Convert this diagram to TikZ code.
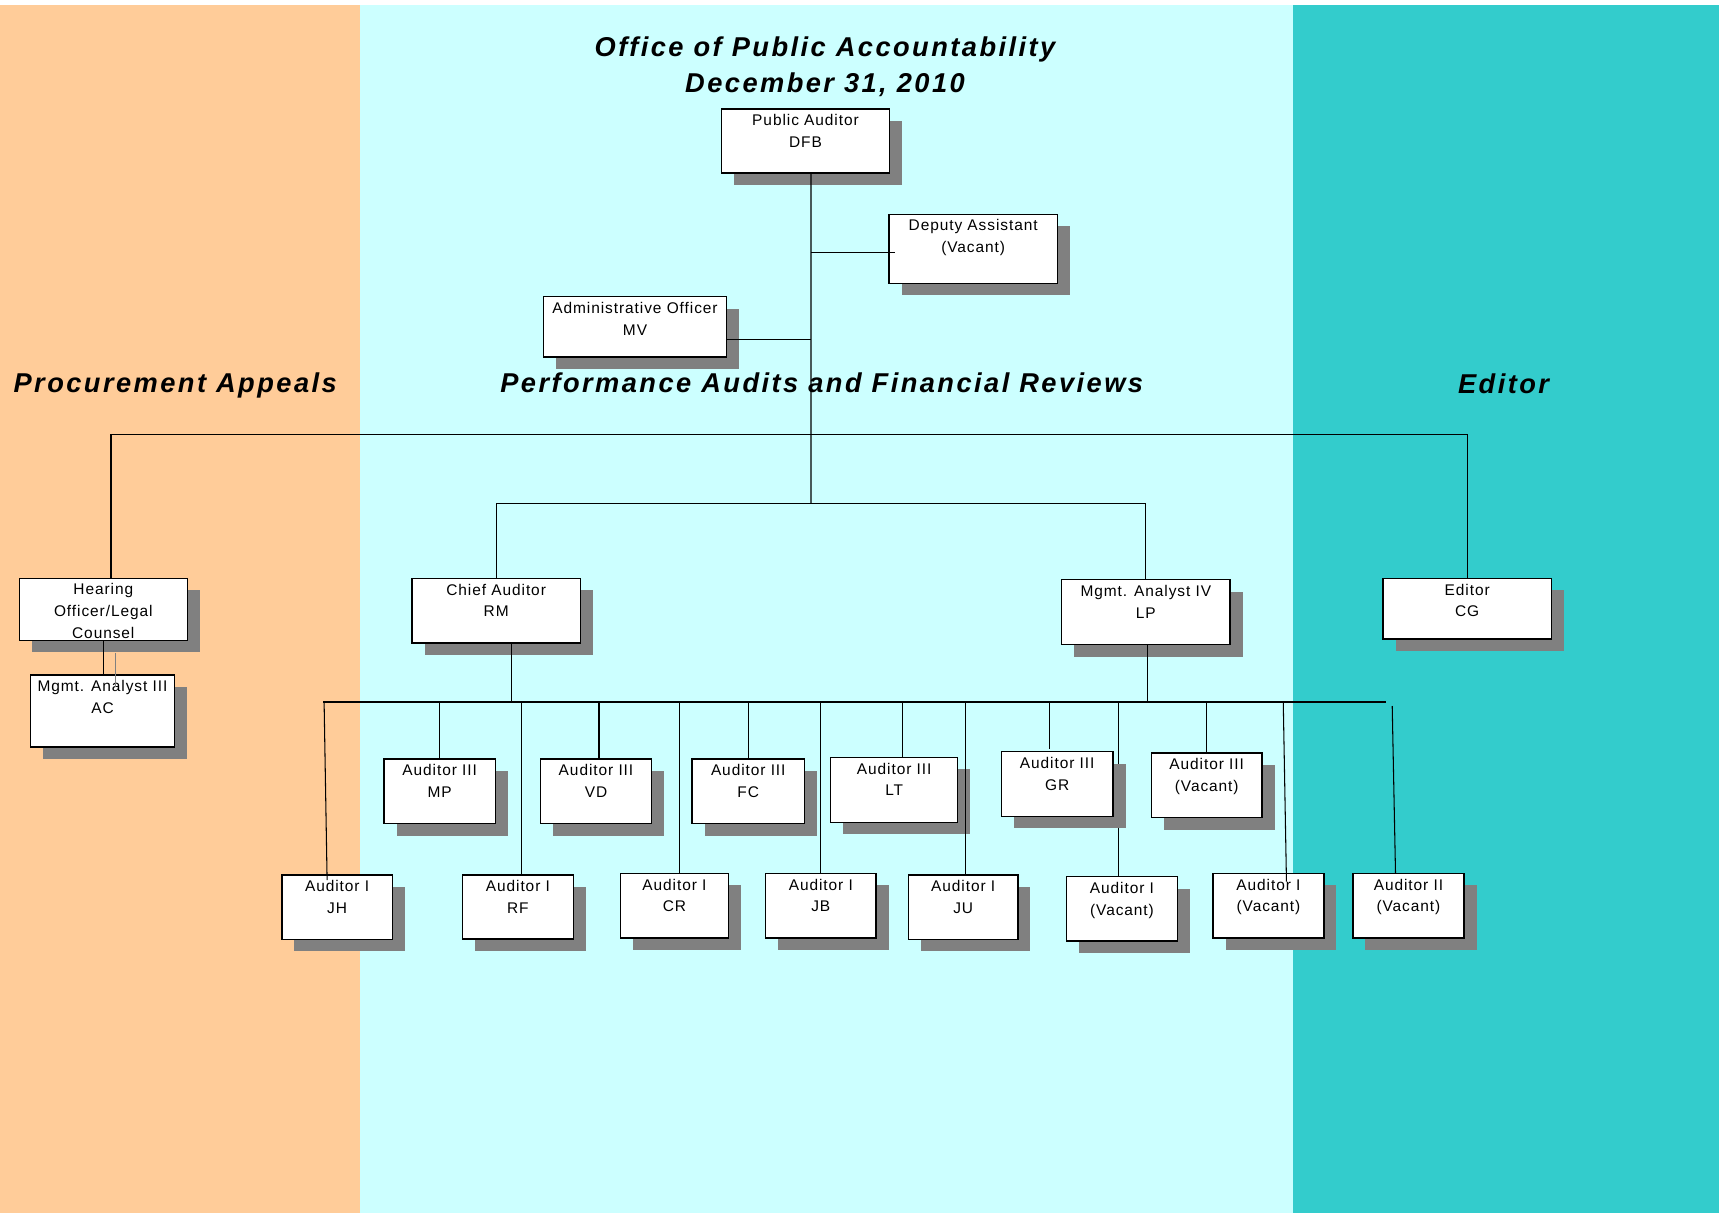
\documentclass[tikz,border=0pt]{standalone}
\usepackage{fontspec}
\setmainfont{Liberation Sans}
\newfontfamily\boxfont[LetterSpace=6]{Liberation Sans}
\newfontfamily\headfont[LetterSpace=9]{Liberation Sans}
\usetikzlibrary{shadows,calc}
\pgfdeclarelayer{background}
\pgfdeclarelayer{foreground}
\pgfsetlayers{background,main,foreground}
\definecolor{appealsorange}{HTML}{FFCC99}
\definecolor{auditcyan}{HTML}{CCFFFF}
\definecolor{editorteal}{HTML}{33CCCC}
\definecolor{shadowgray}{HTML}{808080}

\begin{document}
\begin{tikzpicture}[x=0.02cm,y=-0.02cm,
  box/.style 2 args={draw, fill=white, line width=0.85pt, inner sep=0pt, outer sep=0pt,
    anchor=north west, align=center, font=\boxfont\fontsize{8.8}{12.35}\selectfont,
    text height=0.768cm, minimum width=#1*0.02cm, text depth=#2*0.02cm-0.768cm,
    drop shadow={shadow xshift=0.25cm, shadow yshift=-0.24cm, fill=shadowgray, opacity=1}},
  head/.style={font=\headfont\bfseries\itshape\fontsize{15.5}{20.8}\selectfont, inner sep=0pt},
  link/.style={line width=0.6pt}]

\useasboundingbox (0,0) rectangle (1719,1213);

%coloured bands
\begin{pgfonlayer}{background}
\fill[white] (0,0) rectangle (1719,1213);
\fill[appealsorange] (0,5) rectangle (360,1213);
\fill[auditcyan] (360,5) rectangle (1293,1213);
\fill[editorteal] (1293,5) rectangle (1719,1213);
\end{pgfonlayer}

%title and section headings
\node[head, align=center, anchor=base] (title) at (825,92.7) {Office of Public Accountability\\December 31, 2010};
\node[head, anchor=base west] (appeals) at (13.3,392.3) {Procurement Appeals};
\node[head, anchor=base west] (audits) at (500,392) {Performance Audits and Financial Reviews};
\node[head, anchor=base west] (editing) at (1457.7,393) {Editor};

\begin{pgfonlayer}{foreground}
%top boxes
\node[box={167.6}{64}] (pa) at (721.7,109) {Public Auditor\\DFB};
\node[box={168.3}{69}] (da) at (889,214.3) {Deputy Assistant\\(Vacant)};
\node[box={182.6}{60.3}] (ao) at (543.7,296.7) {Administrative Officer\\MV};

%section heads
\node[box={168}{62}, text height=1.202cm, text depth=0.038cm] (ho) at (19.3,578.3) {Hearing\\Officer/Legal\\Counsel};
\node[box={143.6}{72}] (ac) at (30.7,675) {Mgmt. Analyst III\\AC};
\node[box={168.3}{64.7}] (ca) at (412,578.3) {Chief Auditor\\RM};
\node[box={168.3}{65}] (lp) at (1061.7,579.7) {Mgmt. Analyst IV\\LP};
\node[box={168.3}{60.7}] (ed) at (1383,578.3) {Editor\\CG};

%auditor III row
\node[box={111.3}{64.7}] (mp) at (384,759) {Auditor III\\MP};
\node[box={111}{64.7}] (vd) at (540.5,759) {Auditor III\\VD};
\node[box={112.5}{64.7}] (fc) at (692,759) {Auditor III\\FC};
\node[box={127}{65}] (lt) at (830.7,757.3) {Auditor III\\LT};
\node[box={111.7}{64.6}] (gr) at (1001.3,751.7) {Auditor III\\GR};
\node[box={110.6}{64.7}] (avac) at (1151.4,753) {Auditor III\\(Vacant)};

%auditor I row
\node[box={110.6}{64.3}] (jh) at (281.8,875) {Auditor I\\JH};
\node[box={111}{64}] (rf) at (462.4,875) {Auditor I\\RF};
\node[box={107.9}{64.7}] (cr) at (620.5,873.3) {Auditor I\\CR};
\node[box={110.6}{64.7}] (jb) at (765.5,873.3) {Auditor I\\JB};
\node[box={109.4}{64.3}] (ju) at (908.5,875) {Auditor I\\JU};
\node[box={111.1}{64.3}] (ivaca) at (1066.4,876.7) {Auditor I\\(Vacant)};
\node[box={110.7}{64.7}] (ivacb) at (1213.1,873.3) {Auditor I\\(Vacant)};
\node[box={111.2}{64.7}] (iivac) at (1352.8,873.3) {Auditor II\\(Vacant)};

\coordinate (bus1) at (811,434.3);
\coordinate (bus2) at (811,503.3);
\coordinate (bus3) at (323,702);
\coordinate (bus3end) at (1386.4,702);

%top connectors
\draw[link] ($(pa.south)+(5.5,0)$) -- (bus2);
\draw[link] ($(bus2 |- da.west)+(0,4)$) -- ($(da.west)+(6,4)$);
\draw[link] ($(ao.east)+(0,13)$) -- ($(bus2 |- ao.east)+(0,13)$);
\draw[link] ($(ho.north)+(7.7,0)$) -- ($(ho.north |- bus1)+(7.7,0)$) -- (ed.north |- bus1) -- (ed.north);
\draw[link] (ca.north) -- (ca.north |- bus2) -- (lp.north |- bus2) -- (lp.north);
\draw[link] ($(ca.south)+(15.3,0)$) -- ($(ca.south |- bus3)+(15.3,0)$);
\draw[link] ($(lp.south)+(2,0)$) -- ($(lp.south |- bus3)+(2,0)$);
\draw[link] (ho.south) -- (ho.south |- ac.north);
\draw[link, shadowgray] ($(ho.south)+(12.5,12.7)$) -- ($(ho.south |- ac.north)+(12.5,11.7)$);

%auditor bus and drops
\draw[link] (bus3) -- (bus3end);
\draw[link] ($(jh.north |- bus3)+(-13,0)$) -- ($(jh.north)+(-10,5)$);
\draw[link] (mp.north |- bus3) -- (mp.north);
\draw[link] ($(rf.north |- bus3)+(3.5,0)$) -- ($(rf.north)+(3.5,0)$);
\draw[link] ($(vd.north |- bus3)+(3,0)$) -- ($(vd.north)+(3,0)$);
\draw[link] ($(cr.north |- bus3)+(5,0)$) -- ($(cr.north)+(5,0)$);
\draw[link] (fc.north |- bus3) -- (fc.north);
\draw[link] (jb.north |- bus3) -- (jb.north);
\draw[link] ($(lt.north |- bus3)+(8,0)$) -- ($(lt.north)+(8,0)$);
\draw[link] ($(ju.north |- bus3)+(2.5,0)$) -- ($(ju.north)+(2.5,0)$);
\draw[link] ($(gr.north |- bus3)+(-8,0)$) -- ($(gr.north)+(-8,-2.7)$);
\draw[link] (avac.north |- bus3) -- (avac.north);
\draw[link] ($(ivacb.north |- bus3)+(14.8,0)$) -- ($(ivacb.north)+(18,8.4)$);
\draw[link] ($(iivac.north |- bus3)+(-16.2,4)$) -- ($(iivac.north)+(-12.9,0)$);
\end{pgfonlayer}

%this one runs behind the GR shadow
\draw[link] ($(ivaca.north |- bus3)+(-3.4,0)$) -- ($(ivaca.north)+(-3.4,0)$);

\end{tikzpicture}
\end{document}
